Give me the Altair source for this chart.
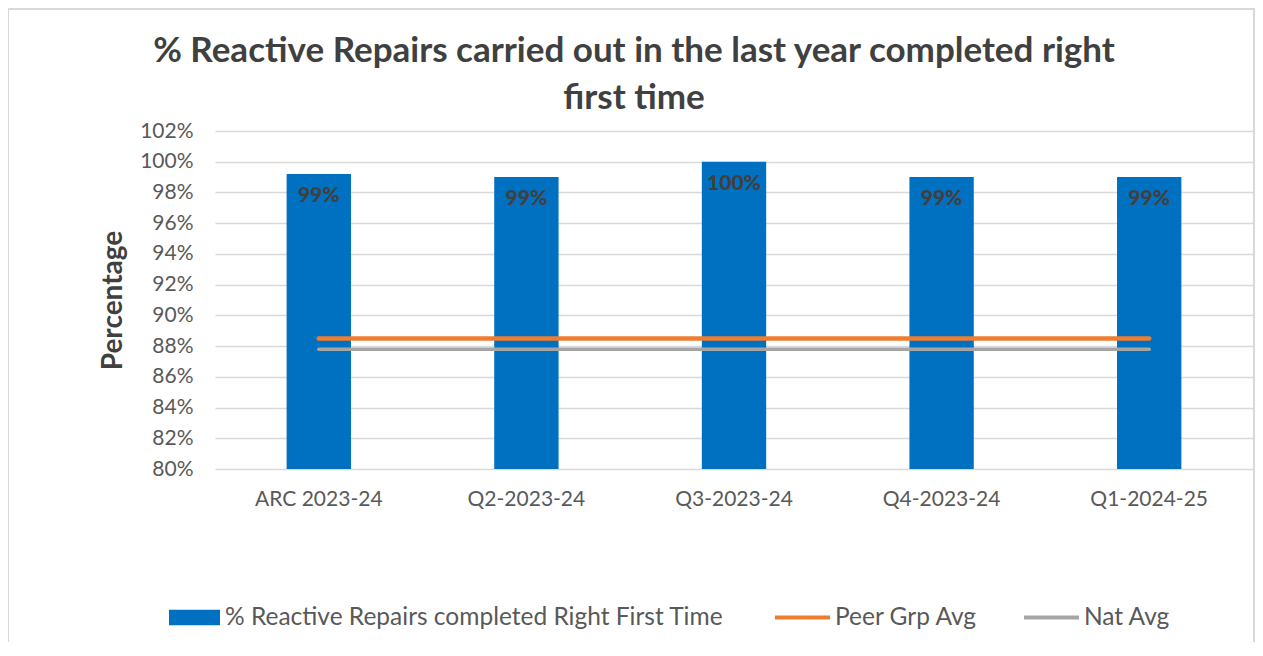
import altair as alt
import pandas as pd

# ---- data ----
categories = ["ARC 2023-24", "Q2-2023-24", "Q3-2023-24", "Q4-2023-24", "Q1-2024-25"]
rft_values = [0.992, 0.990, 1.000, 0.990, 0.990]
peer_values = [0.885, 0.885, 0.885, 0.885, 0.885]
nat_values = [0.878, 0.878, 0.878, 0.878, 0.878]
y_ticks = [0.80, 0.82, 0.84, 0.86, 0.88, 0.90, 0.92, 0.94, 0.96, 0.98, 1.00, 1.02]

bar_name = "% Reactive Repairs completed Right First Time"
peer_name = "Peer Grp Avg"
nat_name = "Nat Avg"
title_lines = ["% Reactive Repairs carried out in the last year completed right", "first time"]

bars_df = pd.DataFrame({"cat": categories, "v": rft_values, "series": [bar_name] * len(categories)})
lines_df = pd.concat([
    pd.DataFrame({"cat": categories, "v": peer_values, "series": peer_name}),
    pd.DataFrame({"cat": categories, "v": nat_values, "series": nat_name}),
])

FONT = "Lato"
TXT = "#595959"
DARK = "#404040"

x_enc = alt.X("cat:N", sort=categories,
              scale=alt.Scale(paddingInner=0.69, paddingOuter=0.345),
              axis=alt.Axis(title=None, labelAngle=0, labelFont=FONT, labelFontSize=21,
                            labelColor=TXT, labelPadding=19, ticks=False, domain=False))
y_scale = alt.Scale(domain=[0.80, 1.02], nice=False, zero=False)
y_enc = alt.Y("v:Q", scale=y_scale,
              axis=alt.Axis(values=y_ticks, format=".0%", labelFont=FONT, labelFontSize=21,
                            labelColor=TXT, labelPadding=22, domain=False, ticks=False,
                            grid=True, gridColor="#D9D9D9", gridWidth=1.5,
                            title="Percentage", titleFont=FONT, titleFontSize=28,
                            titleFontWeight="bold", titleColor=DARK, titlePadding=12))

border = alt.Chart(pd.DataFrame({"k": [0]})).mark_rect(
    fill=None, stroke="#D9D9D9", strokeWidth=2
).encode(x=alt.value(-207), x2=alt.value(1039), y=alt.value(-122), y2=alt.value(640))

bars = alt.Chart(bars_df).mark_bar().encode(
    x=x_enc,
    y=y_enc,
    y2=alt.datum(0.80),
    fill=alt.Fill("series:N",
                  scale=alt.Scale(domain=[bar_name], range=["#0070C0"]),
                  legend=alt.Legend(title=None, orient="none", legendX=-46, legendY=461,
                                    direction="horizontal", symbolType="M-1,-0.3H1V0.3H-1Z",
                                    symbolSize=2601, symbolStrokeWidth=0, symbolOpacity=1,
                                    labelFont=FONT, labelFontSize=24.5, labelColor=TXT,
                                    labelOffset=5, labelLimit=1000, padding=0)),
)

labels = alt.Chart(bars_df).mark_text(
    baseline="top", dy=11, font=FONT, fontSize=21, fontWeight=900, color=DARK
).encode(x=x_enc, y=y_enc, text=alt.Text("v:Q", format=".0%"))

lines = alt.Chart(lines_df).mark_line(strokeCap="round").encode(
    x=x_enc,
    y=y_enc,
    stroke=alt.Stroke("series:N",
                      scale=alt.Scale(domain=[peer_name, nat_name], range=["#ED7D31", "#A5A5A5"]),
                      legend=alt.Legend(title=None, orient="none", legendX=558, legendY=457,
                                        direction="horizontal", symbolType="stroke",
                                        symbolSize=3025, symbolStrokeWidth=4,
                                        labelFont=FONT, labelFontSize=24.5, labelColor=TXT,
                                        labelOffset=3, columnPadding=38, labelLimit=1000,
                                        padding=0)),
    strokeWidth=alt.StrokeWidth("series:N",
                                scale=alt.Scale(domain=[peer_name, nat_name], range=[4.5, 3.5]),
                                legend=None),
)

chart = alt.layer(border, bars, labels, lines).properties(
    width=1038,
    height=338,
    padding={"left": 207, "top": 123, "right": 2, "bottom": 173},
    autosize=alt.AutoSizeParams(type="none"),
    title=alt.TitleParams(text=title_lines, font=FONT, fontSize=35, fontWeight="bold",
                          color=DARK, anchor="middle", frame="group", dx=-100,
                          offset=0, dy=108, lineHeight=47),
).configure_view(stroke=None).resolve_legend(fill="independent", stroke="independent")

chart.save("out.html", embed_options={"renderer": "svg", "actions": False})
